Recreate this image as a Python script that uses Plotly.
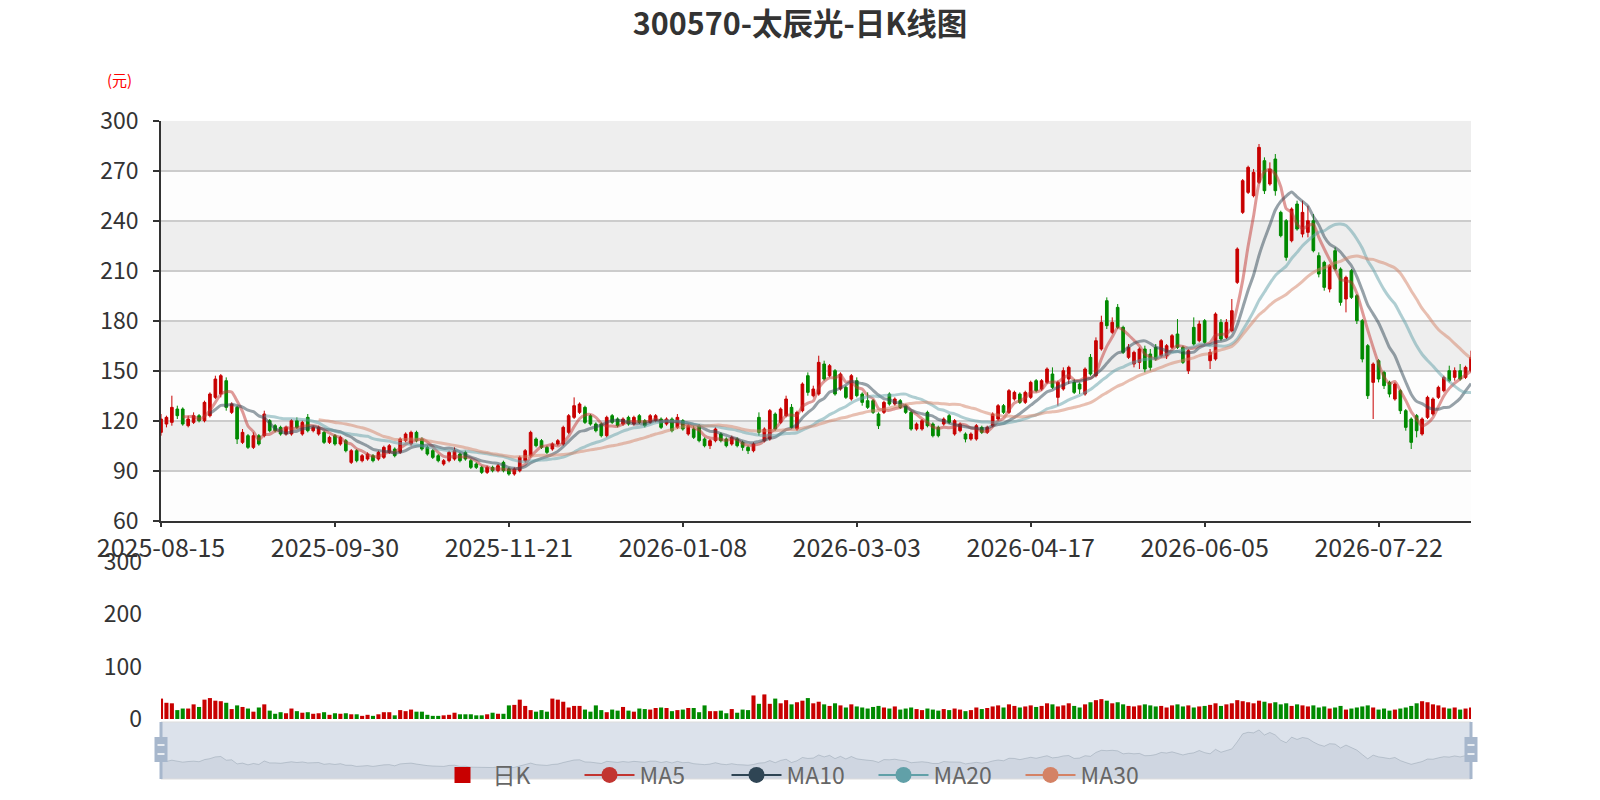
import pandas as pd
import plotly.graph_objects as go

# ---------------- data ----------------
holidays = ['2025-10-01', '2025-10-02', '2025-10-03', '2025-10-06', '2025-10-07', '2025-10-08',
            '2026-01-01', '2026-01-02', '2026-02-16', '2026-02-17', '2026-02-18', '2026-02-19',
            '2026-02-20', '2026-02-23', '2026-04-06', '2026-05-01', '2026-05-04', '2026-05-05',
            '2026-06-19']
dates = [d.strftime('%Y-%m-%d') for d in pd.bdate_range('2025-08-15', '2026-08-14')
         if d.strftime('%Y-%m-%d') not in holidays]

open_ = [113, 118, 119, 127, 127, 117, 119, 123, 120, 123, 134, 136, 144, 125, 128, 107, 111, 104, 111, 111,
         120, 117, 116, 112, 112, 120, 112, 122, 114, 112, 113, 107, 111, 106, 108, 95, 102, 96, 97, 99,
         97, 98, 101, 103, 101, 108, 106, 113, 109, 104, 102, 99, 94, 96, 97, 100, 101, 96, 94, 92,
         89, 92, 90, 95, 91, 88, 90, 96, 99, 109, 108, 104, 103, 106, 106, 113, 122, 125, 128, 123,
         118, 118, 111, 123, 121, 118, 122, 118, 123, 120, 119, 120, 121, 118, 121, 116, 120, 112, 115, 117,
         109, 105, 108, 112, 109, 106, 109, 107, 104, 102, 122, 108, 109, 124, 119, 123, 128, 115, 126, 147,
         135, 136, 154, 147, 150, 139, 140, 133, 144, 136, 132, 132, 124, 125, 136, 130, 132, 129, 125, 115,
         115, 125, 118, 116, 118, 123, 112, 114, 112, 109, 109, 116, 113, 117, 121, 129, 125, 133, 136, 131,
         134, 144, 139, 143, 148, 134, 139, 145, 143, 142, 136, 158, 147, 163, 192, 173, 188, 176, 158, 154,
         155, 163, 160, 164, 159, 159, 164, 172, 164, 150, 176, 168, 180, 156, 157, 179, 170, 174, 203, 245,
         257, 255, 263, 276, 262, 277, 245, 240, 228, 250, 232, 233, 240, 219, 215, 199, 222, 211, 193, 210,
         195, 180, 165, 143, 156, 149, 143, 133, 138, 126, 121, 123, 112, 122, 124, 134, 138, 150, 146, 150,
         146, 150]
high = [124, 123, 135, 129, 128, 123, 125, 124, 132, 137, 147, 148, 146, 131, 129, 115, 112, 113, 112, 126,
        121, 118, 117, 117, 121, 122, 120, 124, 117, 117, 114, 111, 112, 111, 109, 103, 103, 100, 101, 100,
        102, 105, 106, 104, 110, 113, 114, 114, 110, 105, 103, 100, 97, 102, 104, 101, 102, 97, 95, 93,
        93, 93, 94, 96, 92, 92, 99, 103, 114, 110, 109, 105, 107, 109, 117, 124, 134, 131, 129, 124,
        119, 119, 123, 124, 122, 122, 123, 123, 124, 121, 124, 124, 122, 122, 122, 124, 121, 118, 117, 118,
        110, 109, 116, 113, 110, 111, 110, 108, 105, 107, 125, 116, 127, 125, 128, 135, 130, 126, 143, 149,
        141, 159, 156, 154, 151, 149, 141, 148, 146, 137, 137, 133, 125, 132, 137, 134, 133, 130, 126, 119,
        121, 126, 119, 117, 122, 124, 121, 119, 113, 113, 118, 117, 117, 125, 130, 130, 139, 138, 137, 138,
        144, 145, 145, 152, 152, 144, 152, 153, 145, 143, 152, 160, 170, 183, 194, 182, 190, 177, 166, 162,
        164, 165, 163, 166, 169, 166, 172, 181, 165, 163, 182, 180, 181, 163, 185, 181, 181, 193, 224, 265,
        273, 271, 286, 278, 275, 280, 246, 241, 248, 252, 252, 249, 244, 221, 216, 214, 224, 212, 207, 211,
        196, 181, 166, 155, 157, 150, 144, 143, 139, 127, 122, 124, 122, 135, 134, 141, 147, 153, 152, 154,
        153, 162]
low = [111, 116, 117, 121, 117, 116, 118, 119, 119, 122, 133, 134, 126, 124, 106, 106, 103, 103, 105, 110,
       113, 113, 111, 111, 111, 115, 111, 113, 113, 111, 106, 106, 105, 105, 101, 94, 95, 95, 96, 95,
       96, 97, 100, 98, 100, 107, 105, 107, 102, 99, 97, 95, 93, 95, 96, 95, 96, 91, 91, 88,
       88, 89, 89, 89, 87, 87, 89, 95, 98, 104, 103, 100, 102, 105, 105, 112, 121, 124, 118, 117,
       113, 110, 110, 118, 116, 117, 117, 117, 118, 116, 118, 119, 115, 117, 113, 115, 114, 111, 109, 107,
       104, 103, 107, 107, 104, 105, 104, 102, 100, 101, 111, 107, 108, 114, 118, 122, 115, 114, 125, 135,
       134, 135, 144, 146, 135, 138, 133, 132, 134, 129, 127, 124, 115, 124, 129, 129, 127, 124, 114, 114,
       114, 116, 110, 110, 117, 118, 111, 113, 107, 108, 108, 112, 112, 116, 120, 124, 124, 132, 130, 130,
       133, 137, 138, 142, 139, 129, 138, 142, 136, 136, 135, 147, 146, 162, 175, 172, 175, 160, 157, 152,
       151, 149, 150, 156, 158, 157, 163, 163, 154, 148, 165, 167, 166, 151, 156, 168, 169, 173, 202, 244,
       256, 254, 262, 256, 261, 255, 230, 216, 227, 234, 230, 230, 221, 206, 198, 197, 210, 189, 185, 193,
       178, 155, 133, 121, 143, 139, 134, 132, 124, 114, 103, 110, 111, 121, 123, 133, 137, 143, 144, 144,
       145, 149]
close = [121, 122, 128, 123, 118, 121, 123, 120, 131, 136, 145, 147, 128, 130, 109, 113, 104, 111, 106, 124,
         114, 114, 112, 116, 120, 116, 119, 114, 116, 116, 107, 110, 106, 110, 102, 102, 96, 99, 100, 96,
         101, 104, 105, 99, 109, 112, 113, 108, 103, 100, 98, 96, 96, 101, 102, 96, 97, 92, 92, 89,
         92, 90, 93, 90, 88, 91, 98, 102, 113, 105, 104, 101, 106, 108, 116, 123, 129, 130, 119, 118,
         114, 111, 122, 119, 117, 121, 118, 122, 119, 117, 123, 123, 116, 121, 114, 122, 115, 117, 110, 108,
         105, 108, 115, 108, 105, 110, 105, 104, 102, 106, 113, 115, 126, 115, 127, 133, 116, 125, 142, 137,
         139, 155, 145, 153, 136, 148, 134, 147, 135, 131, 128, 125, 117, 131, 130, 133, 128, 125, 115, 118,
         120, 117, 111, 111, 121, 119, 120, 118, 109, 112, 117, 113, 116, 124, 129, 125, 138, 137, 131, 137,
         143, 138, 144, 151, 140, 143, 150, 152, 137, 139, 151, 148, 168, 179, 177, 179, 176, 161, 164, 161,
         163, 151, 152, 157, 168, 165, 171, 164, 155, 162, 166, 178, 167, 161, 184, 169, 179, 186, 223, 264,
         272, 269, 284, 258, 271, 258, 231, 218, 247, 235, 245, 240, 222, 208, 200, 213, 211, 191, 206, 194,
         180, 157, 135, 154, 145, 141, 136, 142, 126, 116, 107, 114, 121, 134, 133, 140, 146, 144, 150, 145,
         152, 158]
volume = [39, 31, 30, 17, 20, 20, 28, 23, 37, 40, 35, 34, 31, 19, 26, 23, 20, 14, 22, 28,
          16, 10, 13, 11, 20, 15, 12, 13, 10, 11, 13, 8, 11, 10, 11, 9, 9, 6, 8, 6,
          9, 13, 13, 7, 17, 15, 18, 14, 14, 8, 6, 6, 7, 8, 12, 9, 9, 9, 7, 7,
          9, 12, 10, 10, 26, 27, 37, 25, 17, 14, 17, 14, 39, 37, 33, 22, 25, 25, 18, 14,
          26, 17, 13, 18, 16, 23, 16, 14, 20, 19, 18, 21, 22, 21, 15, 17, 18, 21, 21, 13,
          26, 15, 15, 16, 11, 19, 12, 18, 17, 45, 29, 47, 29, 39, 30, 36, 28, 32, 35, 40,
          30, 33, 28, 25, 30, 26, 22, 28, 24, 22, 20, 23, 25, 22, 20, 24, 18, 20, 22, 19,
          17, 20, 18, 16, 19, 17, 20, 18, 15, 17, 22, 19, 21, 24, 26, 22, 28, 25, 22, 24,
          26, 23, 25, 30, 28, 24, 26, 30, 25, 22, 28, 32, 36, 38, 35, 30, 32, 28, 25, 24,
          26, 28, 26, 24, 25, 22, 26, 28, 24, 26, 22, 24, 25, 27, 30, 25, 28, 30, 36, 34,
          32, 30, 35, 33, 30, 32, 28, 30, 25, 28, 26, 24, 26, 22, 24, 20, 22, 25, 18, 20,
          22, 24, 26, 22, 18, 20, 16, 18, 20, 22, 25, 30, 34, 32, 28, 26, 22, 20, 22, 18,
          20, 22]

x_ticks = dates[::32]
y_ticks = [60, 90, 120, 150, 180, 210, 240, 270, 300]
vol_ticks = [0, 100, 200, 300]
ma_periods = [5, 10, 20, 30]

# ---------------- styles ----------------
UP = '#c80000'
DOWN = '#008a00'
MA_COLORS = {5: '#c23531', 10: '#2f4554', 20: '#61a0a8', 30: '#d48265'}
MA_FADED = {5: 'rgba(194,53,49,0.5)', 10: 'rgba(47,69,84,0.5)',
            20: 'rgba(97,160,168,0.5)', 30: 'rgba(212,130,101,0.5)'}
FONT = 'Noto Sans CJK SC, Noto Sans, sans-serif'
W, H = 1600, 800
XL, XR = 161 / W, 1471 / W
MAIN = [(H - 520.7) / H, (H - 120.7) / H]
VOL = [(H - 719) / H, (H - 562) / H]
DZ = [(H - 779) / H, (H - 722) / H]
n = len(dates)

closes = pd.Series(close, dtype=float)
ma = {p: closes.rolling(p).mean() for p in ma_periods}
vol_colors = [UP if c >= o else DOWN for o, c in zip(open_, close)]

fig = go.Figure()
fig.add_trace(go.Candlestick(
    x=dates, open=open_, high=high, low=low, close=close, name='日K',
    increasing=dict(line=dict(color=UP, width=1), fillcolor=UP),
    decreasing=dict(line=dict(color=DOWN, width=1), fillcolor=DOWN),
    whiskerwidth=0, showlegend=False, xaxis='x', yaxis='y'))
for p in ma_periods:
    fig.add_trace(go.Scatter(
        x=dates, y=ma[p], mode='lines', name=f'MA{p}', showlegend=False,
        line=dict(color=MA_FADED[p], width=3, shape='spline', smoothing=0.6),
        xaxis='x', yaxis='y'))
fig.add_trace(go.Bar(x=dates, y=volume, marker=dict(color=vol_colors, line=dict(width=0)),
                     showlegend=False, xaxis='x2', yaxis='y2'))
fig.add_trace(go.Scatter(x=dates, y=close, mode='lines', fill='tozeroy',
                         line=dict(color='rgba(47,69,84,0.35)', width=0.8),
                         fillcolor='rgba(47,69,84,0.10)', showlegend=False,
                         xaxis='x3', yaxis='y3'))

# legend entries
fig.add_trace(go.Scatter(x=[None], y=[None], mode='markers', name='日K',
                         marker=dict(symbol='square', size=26, color=UP)))
for p in ma_periods:
    fig.add_trace(go.Scatter(x=[None], y=[None], mode='lines+markers', name=f'MA{p}',
                             line=dict(color=MA_COLORS[p], width=2),
                             marker=dict(size=22, color=MA_COLORS[p])))

shapes = []
for a, b in zip(y_ticks[:-1], y_ticks[1:]):
    gray = (a // 30) % 2 == 1
    shapes.append(dict(type='rect', xref='x domain', yref='y', x0=0, x1=1, y0=a, y1=b,
                       fillcolor='#eeeeee' if gray else '#fdfdfd', line=dict(width=0), layer='below'))
# data zoom frame
shapes.append(dict(type='rect', xref='paper', yref='paper', x0=XL, x1=XR, y0=DZ[0], y1=DZ[1],
                   fillcolor='rgba(167,183,204,0.40)', line=dict(color='#dddddd', width=1), layer='above'))
for xe in (XL, XR):
    shapes.append(dict(type='line', xref='paper', yref='paper', x0=xe, x1=xe, y0=DZ[0], y1=DZ[1],
                       line=dict(color='#a7b7cc', width=3), layer='above'))
    shapes.append(dict(type='rect', xref='paper', yref='paper', x0=xe - 6.5 / W, x1=xe + 6.5 / W,
                       y0=(H - 762) / H, y1=(H - 737) / H, fillcolor='#a7b7cc',
                       line=dict(width=0), layer='above'))
    for yy in (745, 754):
        shapes.append(dict(type='line', xref='paper', yref='paper', x0=xe - 3.5 / W, x1=xe + 3.5 / W,
                           y0=(H - yy) / H, y1=(H - yy) / H, line=dict(color='white', width=1.5),
                           layer='above'))

XTICKF = dict(size=25, color='#333333', family=FONT)
YTICKF = dict(size=23, color='#333333', family=FONT)
fig.update_layout(
    width=W, height=H, margin=dict(l=0, r=0, t=0, b=0, autoexpand=False),
    paper_bgcolor='white', plot_bgcolor='white', hovermode=False,
    font=dict(family=FONT, color='#333333', size=20),
    title=dict(text='<b>300570-太辰光-日K线图</b>', x=0.5, y=1 - 24 / H, xanchor='center',
               yanchor='middle', automargin=False,
               font=dict(family=FONT, size=30.5, color='#333333')),
    boxgap=0.3, bargap=0.25,
    showlegend=True,
    legend=dict(orientation='h', x=0.5, xanchor='center', y=(H - 775) / H, yanchor='middle',
                font=dict(size=23, color='#666666', family=FONT), itemwidth=50,
                entrywidth=82, entrywidthmode='pixels',
                bgcolor='rgba(0,0,0,0)', itemclick=False),
    xaxis=dict(domain=[XL, XR], type='category', range=[0, n - 1], anchor='y', automargin=False,
               tickmode='array', tickvals=x_ticks, ticktext=x_ticks,
               ticks='outside', ticklen=5, tickcolor='#333', tickwidth=1.5,
               showline=True, linecolor='#333', linewidth=1.5, showgrid=False,
               tickfont=XTICKF, rangeslider=dict(visible=False)),
    yaxis=dict(domain=MAIN, range=[60, 300], tickmode='array', tickvals=y_ticks, anchor='x',
               automargin=False,
               ticks='outside', ticklen=6, tickcolor='#333', tickwidth=1.5,
               showline=True, linecolor='#333', linewidth=1.5,
               showgrid=True, gridcolor='#cccccc', gridwidth=1.5, zeroline=False,
               tickfont=YTICKF, ticklabelstandoff=10),
    xaxis2=dict(domain=[XL, XR], type='category', range=[0, n - 1], anchor='y2',
                automargin=False, visible=False),
    yaxis2=dict(domain=VOL, range=[0, 300], tickmode='array', tickvals=vol_ticks, anchor='x2',
                automargin=False,
                showgrid=False, zeroline=False, showline=False, ticks='',
                tickfont=YTICKF, ticklabelstandoff=18),
    xaxis3=dict(domain=[XL, XR], type='category', range=[0, n - 1], anchor='y3',
                automargin=False, visible=False),
    yaxis3=dict(domain=DZ, range=[31, 325], anchor='x3', automargin=False, visible=False),
    shapes=shapes,
    annotations=[dict(text='(元)', xref='paper', yref='paper', x=119 / W, y=(H - 80) / H,
                      xanchor='center', yanchor='middle', showarrow=False,
                      font=dict(size=15, color='red', family=FONT))],
)

fig.write_html("out.html", config={'displayModeBar': False},
               post_script="document.body.style.margin='0px';document.body.style.padding='0px';")
